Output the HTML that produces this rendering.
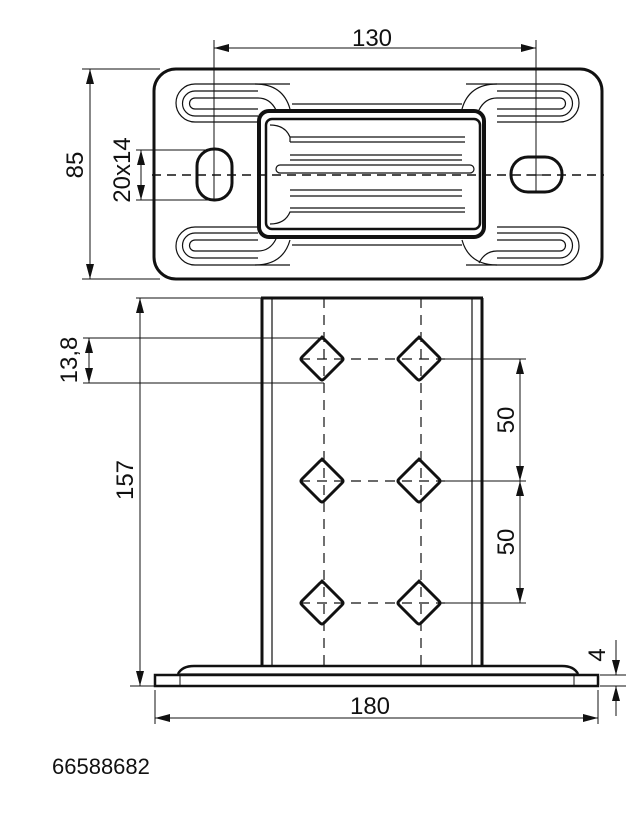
<!DOCTYPE html>
<html><head><meta charset="utf-8"><style>html,body{margin:0;background:#fff}svg{display:block}text{font-family:"Liberation Sans",sans-serif;fill:#111}</style></head><body>
<svg width="630" height="820" viewBox="0 0 630 820" xmlns="http://www.w3.org/2000/svg">
<g stroke="#111" fill="none">
<!-- TOP VIEW -->
<rect x="154" y="69" width="448" height="210" rx="22" stroke-width="3"/>
<g stroke-width="1.2">
<path d="M290,84H195a19,19 0 0 0 0,38H258"/><path d="M258,98H195a5,5 0 0 0 0,11H258"/><path d="M258,91H195a12,12 0 0 0 0,25H258"/>
<path d="M255,84q28,0 35,25M258,98q12,0 18,12"/>
<path d="M466,84H560a19,19 0 0 1 0,38H497"/><path d="M497,98H560a5,5 0 0 1 0,11H497"/><path d="M497,91H560a12,12 0 0 1 0,25H497"/>
<path d="M497,84q-28,0 -35,25M497,98q-12,0 -18,12"/>
<path d="M290,265H195a19,19 0 0 1 0,-38H258"/><path d="M258,251H195a5,5 0 0 1 0,-11H258"/><path d="M258,258H195a12,12 0 0 1 0,-25H258"/>
<path d="M255,265q28,0 35,-25M258,251q12,0 18,-12"/>
<path d="M466,265H560a19,19 0 0 0 0,-38H497"/><path d="M497,251H560a5,5 0 0 0 0,-11H497"/><path d="M497,258H560a12,12 0 0 0 0,-25H497"/>
<path d="M497,265q-28,0 -35,-25M497,251q-12,0 -18,12"/>
<line x1="292" y1="104" x2="462" y2="104"/><line x1="292" y1="245" x2="462" y2="245"/>
<path d="M270,125q15,0 20,12H465M290,137V142M290,142H465"/>
<path d="M290,155H462M290,160H462M280,165H470a4,4 0 0 1 0,8H280a4,4 0 0 1 0,-8M290,190H462M290,196H462"/>
<path d="M270,224q15,0 20,-12H465M290,208H465"/>
</g>
<rect x="259" y="111" width="225" height="126" rx="10" stroke-width="4"/>
<rect x="266" y="119" width="214" height="110" rx="6" stroke-width="2.5"/>
<rect x="197" y="149" width="35" height="51" rx="17" stroke-width="3"/>
<rect x="511" y="157" width="51" height="35" rx="17" stroke-width="3"/>
<line x1="152" y1="175" x2="604" y2="175" stroke-width="1.6" stroke-dasharray="9,6"/>
<g stroke-width="1"><line x1="214" y1="40" x2="214" y2="200"/><line x1="536" y1="40" x2="536" y2="192"/>
<line x1="526" y1="175" x2="546" y2="175"/>
<line x1="214" y1="48" x2="536" y2="48"/>
<line x1="82" y1="69" x2="160" y2="69"/><line x1="82" y1="279" x2="160" y2="279"/>
<line x1="90" y1="69" x2="90" y2="279"/>
<line x1="136" y1="150" x2="210" y2="150"/><line x1="136" y1="200" x2="210" y2="200"/>
<line x1="141" y1="150" x2="141" y2="200"/>
</g>
<!-- FRONT VIEW -->
<line x1="262" y1="298" x2="262" y2="666" stroke-width="3"/><line x1="482" y1="298" x2="482" y2="666" stroke-width="3"/>
<line x1="261" y1="298" x2="483" y2="298" stroke-width="3"/>
<line x1="272" y1="298" x2="272" y2="666" stroke-width="1.2"/><line x1="472" y1="298" x2="472" y2="666" stroke-width="1.2"/>
<path d="M178,674q4,-8 16,-8H562q12,0 16,8" stroke-width="2.5"/>
<line x1="180" y1="674" x2="576" y2="674" stroke-width="1.2"/>
<rect x="155" y="675" width="443" height="11" stroke-width="2.5"/>
<line x1="180" y1="676" x2="180" y2="686" stroke-width="1"/><line x1="574" y1="676" x2="574" y2="686" stroke-width="1"/>
<g stroke-width="1.2" stroke-dasharray="10,7">
<line x1="324" y1="298" x2="324" y2="666"/><line x1="421" y1="298" x2="421" y2="666"/>
<line x1="300" y1="359" x2="445" y2="359"/><line x1="300" y1="481" x2="445" y2="481"/><line x1="300" y1="603" x2="445" y2="603"/>
</g>
<g stroke-width="3" stroke-linejoin="round" transform="translate(-2,0)">
<path d="M324,337l20,20q2,2 0,4l-18,18q-2,2 -4,0l-18,-18q-2,-2 0,-4l18,-18q2,-2 4,0z"/>
<path d="M421,337l20,20q2,2 0,4l-18,18q-2,2 -4,0l-18,-18q-2,-2 0,-4l18,-18q2,-2 4,0z"/>
<path d="M324,459l20,20q2,2 0,4l-18,18q-2,2 -4,0l-18,-18q-2,-2 0,-4l18,-18q2,-2 4,0z"/>
<path d="M421,459l20,20q2,2 0,4l-18,18q-2,2 -4,0l-18,-18q-2,-2 0,-4l18,-18q2,-2 4,0z"/>
<path d="M324,581l20,20q2,2 0,4l-18,18q-2,2 -4,0l-18,-18q-2,-2 0,-4l18,-18q2,-2 4,0z"/>
<path d="M421,581l20,20q2,2 0,4l-18,18q-2,2 -4,0l-18,-18q-2,-2 0,-4l18,-18q2,-2 4,0z"/>
</g>
<g stroke-width="1">
<line x1="136" y1="298" x2="262" y2="298"/><line x1="130" y1="686" x2="155" y2="686"/>
<line x1="140" y1="298" x2="140" y2="686"/>
<line x1="83" y1="338" x2="324" y2="338"/><line x1="83" y1="383" x2="324" y2="383"/>
<line x1="89" y1="338" x2="89" y2="383"/>
<line x1="440" y1="359" x2="526" y2="359"/><line x1="440" y1="481" x2="526" y2="481"/><line x1="440" y1="603" x2="526" y2="603"/>
<line x1="520" y1="359" x2="520" y2="603"/>
<line x1="155" y1="690" x2="155" y2="724"/><line x1="598" y1="690" x2="598" y2="724"/>
<line x1="155" y1="718" x2="598" y2="718"/>
<line x1="600" y1="675" x2="626" y2="675"/><line x1="600" y1="686" x2="626" y2="686"/>
<line x1="616" y1="640" x2="616" y2="675"/><line x1="616" y1="686" x2="616" y2="716"/>
</g>
</g>
<g fill="#111">
<polygon points="214,48 229,44 229,52"/><polygon points="536,48 521,44 521,52"/>
<polygon points="90,69 86,84 94,84"/><polygon points="90,279 86,264 94,264"/>
<polygon points="141,150 137,165 145,165"/><polygon points="141,200 137,185 145,185"/>
<polygon points="89,338 85,353 93,353"/><polygon points="89,383 85,368 93,368"/>
<polygon points="140,298 136,313 144,313"/><polygon points="140,686 136,671 144,671"/>
<polygon points="520,359 516,374 524,374"/><polygon points="520,481 516,466 524,466"/>
<polygon points="520,481 516,496 524,496"/><polygon points="520,603 516,588 524,588"/>
<polygon points="155,718 170,714 170,722"/><polygon points="598,718 583,714 583,722"/>
<polygon points="616,675 612,660 620,660"/><polygon points="616,686 612,701 620,701"/>
</g>
<g font-size="24">
<text x="372" y="46" text-anchor="middle">130</text>
<text transform="translate(83,165) rotate(-90)" text-anchor="middle">85</text>
<text transform="translate(130,170) rotate(-90)" text-anchor="middle">20x14</text>
<text transform="translate(77,360) rotate(-90)" text-anchor="middle">13,8</text>
<text transform="translate(133,480) rotate(-90)" text-anchor="middle">157</text>
<text transform="translate(514,420) rotate(-90)" text-anchor="middle">50</text>
<text transform="translate(514,542) rotate(-90)" text-anchor="middle">50</text>
<text transform="translate(605,655) rotate(-90)" text-anchor="middle">4</text>
<text x="370" y="714" text-anchor="middle">180</text>
<text x="52" y="774" font-size="22">66588682</text>
</g>
</svg>
</body></html>
